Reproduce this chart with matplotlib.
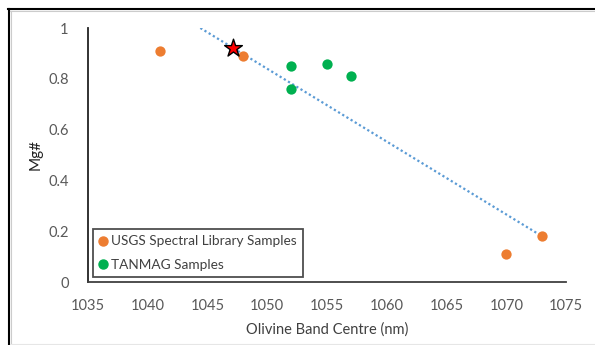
import matplotlib
matplotlib.use("Agg")
import matplotlib.pyplot as plt
from matplotlib.lines import Line2D

plt.rcParams['font.family'] = ['Lato', 'DejaVu Sans']

usgs_x = [1041, 1048, 1070, 1073]
usgs_y = [0.91, 0.89, 0.11, 0.18]
tanmag_x = [1052, 1052, 1055, 1057]
tanmag_y = [0.85, 0.76, 0.86, 0.81]
star_x = [1047.1]
star_y = [0.92]
trend_x = [1044.4, 1073.0]
trend_y = [1.0, 0.18]
x_ticks = [1035, 1040, 1045, 1050, 1055, 1060, 1065, 1070, 1075]
y_ticks = [0, 0.2, 0.4, 0.6, 0.8, 1]
y_tick_labels = ['0', '0.2', '0.4', '0.6', '0.8', '1']

orange = '#ED7D31'
green = '#00B050'

fig = plt.figure(figsize=(5.95, 3.45), dpi=100)
ax = fig.add_axes([88/595, 1-282/345, (566-88)/595, (282-28)/345])

ax.plot(trend_x, trend_y, linestyle=(0, (1, 1.2)), color='#5B9BD5', lw=1.6, zorder=1)
ax.scatter(usgs_x, usgs_y, s=55, color=orange, zorder=3, linewidths=0, label='USGS Spectral Library Samples')
ax.scatter(tanmag_x, tanmag_y, s=55, color=green, zorder=3, linewidths=0, label='TANMAG Samples')
ax.scatter(star_x, star_y, s=180, marker='*', color='red', edgecolors='black', linewidths=1.0, zorder=4)

ax.set_xlim(1035, 1075)
ax.set_ylim(0, 1)
ax.set_xticks(x_ticks)
ax.set_yticks(y_ticks)
ax.set_yticklabels(y_tick_labels)
ax.tick_params(length=0, labelsize=10.5, colors='#595959')
ax.tick_params(axis='x', pad=12)
ax.tick_params(axis='y', pad=14)
for s in ['top', 'right']:
    ax.spines[s].set_visible(False)
ax.spines['left'].set_color('#222222')
ax.spines['bottom'].set_color('#404040')
ax.spines['left'].set_linewidth(1.3)
ax.spines['bottom'].set_linewidth(1.3)

ax.set_xlabel('Olivine Band Centre (nm)', fontsize=10.5, color='#404040', labelpad=7)
ax.set_ylabel('Mg#', fontsize=11, color='#222222')
ax.yaxis.set_label_coords((43 - 88) / 478, 0.5)

handles = [Line2D([], [], marker='o', linestyle='none', color=orange, markersize=6.5),
           Line2D([], [], marker='o', linestyle='none', color=green, markersize=6.5)]
leg = ax.legend(handles, ['USGS Spectral Library Samples', 'TANMAG Samples'],
                loc='lower left', bbox_to_anchor=(93/595, 1-277/345), bbox_transform=fig.transFigure,
                frameon=True, fancybox=False, fontsize=9.8, handlelength=0.6, handletextpad=0.3,
                borderpad=0.45, labelspacing=0.85, borderaxespad=0)
leg.get_frame().set_edgecolor('#222222')
leg.get_frame().set_linewidth(1.3)
for t in leg.get_texts():
    t.set_color('#404040')

# figure frame
fig.add_artist(Line2D([8/595, 1], [1-8.5/345, 1-8.5/345], transform=fig.transFigure, color='black', lw=1.5))
fig.add_artist(Line2D([8.5/595, 8.5/595], [0, 1-8.5/345], transform=fig.transFigure, color='black', lw=1.5))
fig.add_artist(Line2D([10/595, 1], [1-10.5/345, 1-10.5/345], transform=fig.transFigure, color='#cccccc', lw=0.8))
fig.add_artist(Line2D([10.5/595, 10.5/595], [0, 1-10.5/345], transform=fig.transFigure, color='#cccccc', lw=0.8))
fig.add_artist(Line2D([10/595, 1], [1.5/345, 1.5/345], transform=fig.transFigure, color='#e6e6e6', lw=0.8))

fig.savefig('out.png', dpi=100)
